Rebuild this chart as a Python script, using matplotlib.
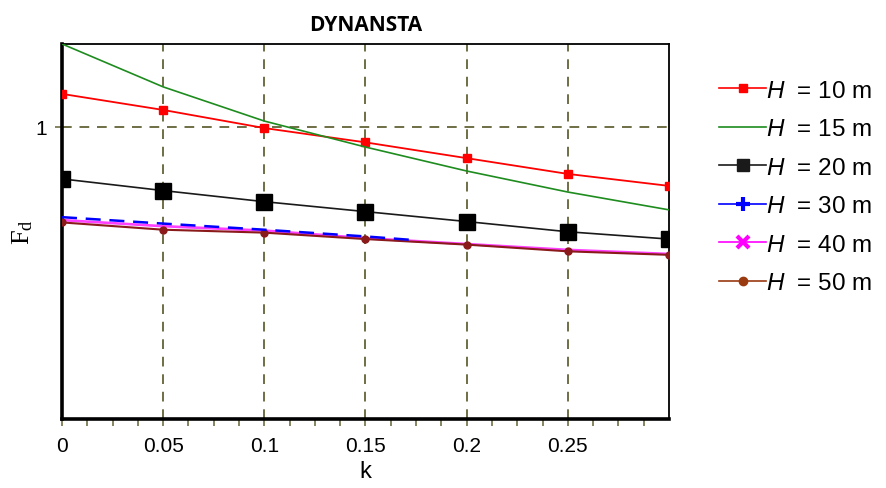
import matplotlib
matplotlib.use("Agg")
import matplotlib.pyplot as plt
from matplotlib.lines import Line2D

plt.rcParams['mathtext.fontset'] = 'custom'
plt.rcParams['mathtext.rm'] = 'Liberation Serif'
plt.rcParams['mathtext.it'] = 'Liberation Sans:italic'

# Data
k = [0, 0.05, 0.1, 0.15, 0.2, 0.25, 0.3]
fd_h10 = [1.113, 1.058, 0.996, 0.947, 0.893, 0.839, 0.798]
fd_h15 = [1.284, 1.137, 1.020, 0.931, 0.849, 0.777, 0.716]
fd_h20 = [0.822, 0.782, 0.744, 0.710, 0.676, 0.641, 0.616]
k_h30 = [0, 0.05, 0.1, 0.15, 0.173]
fd_h30 = [0.691, 0.669, 0.648, 0.625, 0.613]
fd_h40 = [0.681, 0.660, 0.645, 0.619, 0.599, 0.579, 0.565]
fd_h50 = [0.673, 0.648, 0.638, 0.616, 0.597, 0.574, 0.562]

labels = ["10", "15", "20", "30", "40", "50"]
xticks = [0, 0.05, 0.1, 0.15, 0.2, 0.25]
xticklabels = ["0", "0.05", "0.1", "0.15", "0.2", "0.25"]

GRID = "#6f6f45"
SANS = ["Liberation Sans", "DejaVu Sans"]

fig = plt.figure(figsize=(8.87, 4.89), dpi=100)
ax = fig.add_axes([0.0699, 0.1411, 0.6843, 0.767])

ax.plot(k, fd_h10, color="#ff0000", lw=1.3, marker='s', ms=5.5, zorder=3)
ax.plot(k, fd_h15, color="#1e8c1e", lw=1.2, zorder=3)
ax.plot(k, fd_h20, color="#1a1a1a", lw=1.2, marker='s', ms=11, mfc='k', mec='k', zorder=3)
ax.plot(k, fd_h40, color="#ff40ff", lw=1.9, zorder=3)
ax.plot(k, fd_h50, color="#8b1a1a", lw=1.5, marker='o', ms=5, zorder=4)
ax.plot(k_h30, fd_h30, color="#0000ff", lw=1.8, dashes=(6, 3.5), zorder=5)

ax.set_xlim(0, 0.3)
ax.set_ylim(0, 1.284)
ax.set_xticks(xticks)
ax.set_xticklabels(xticklabels, family=SANS, fontsize=15)
ax.set_xticks([i * 0.0125 for i in range(1, 24)], minor=True)
ax.set_yticks([1])
ax.set_yticklabels(["1"], family=SANS, fontsize=15)
ax.tick_params(axis='x', which='both', direction='out', color=GRID, length=5, width=1.2, pad=7)
ax.tick_params(axis='y', direction='inout', color=GRID, length=10, width=1.2, pad=6)

ax.grid(True, which='major', color=GRID, ls=(0, (5, 4)), lw=1.4)
ax.set_axisbelow(True)

for side in ['left', 'bottom']:
    ax.spines[side].set_linewidth(2.6)
for side in ['top', 'right']:
    ax.spines[side].set_linewidth(1.3)

ax.set_xlabel("k", family=SANS, fontsize=17, labelpad=4)
ax.set_ylabel(r"$\mathrm{F_d}$", fontsize=19, labelpad=0)
ax.set_title("DYNANSTA", family=["Open Sans", "DejaVu Sans"], fontweight='bold',
             fontsize=15, pad=10)

# legend
handles = [
    Line2D([], [], color="#ff0000", lw=1.2, marker='s', ms=6),
    Line2D([], [], color="#1e8c1e", lw=1.2),
    Line2D([], [], color="#1a1a1a", lw=1.2, marker='s', ms=8),
    Line2D([], [], color="#0000ff", lw=1.2, marker='+', ms=10, mew=3),
    Line2D([], [], color="#ff00ff", lw=1.2, marker='x', ms=8, mew=3),
    Line2D([], [], color="#9a3a10", lw=1.2, marker='o', ms=6),
]
ax.legend(handles, [f"$H$  = {h} m" for h in labels],
          loc='upper left', bbox_to_anchor=(0.8106, 0.835),
          bbox_transform=fig.transFigure, frameon=False,
          borderpad=0, borderaxespad=0,
          handlelength=1.95, handletextpad=0.0,
          labelspacing=0.68, prop={'family': SANS, 'size': 17.5})

fig.savefig("out.png", dpi=100)
